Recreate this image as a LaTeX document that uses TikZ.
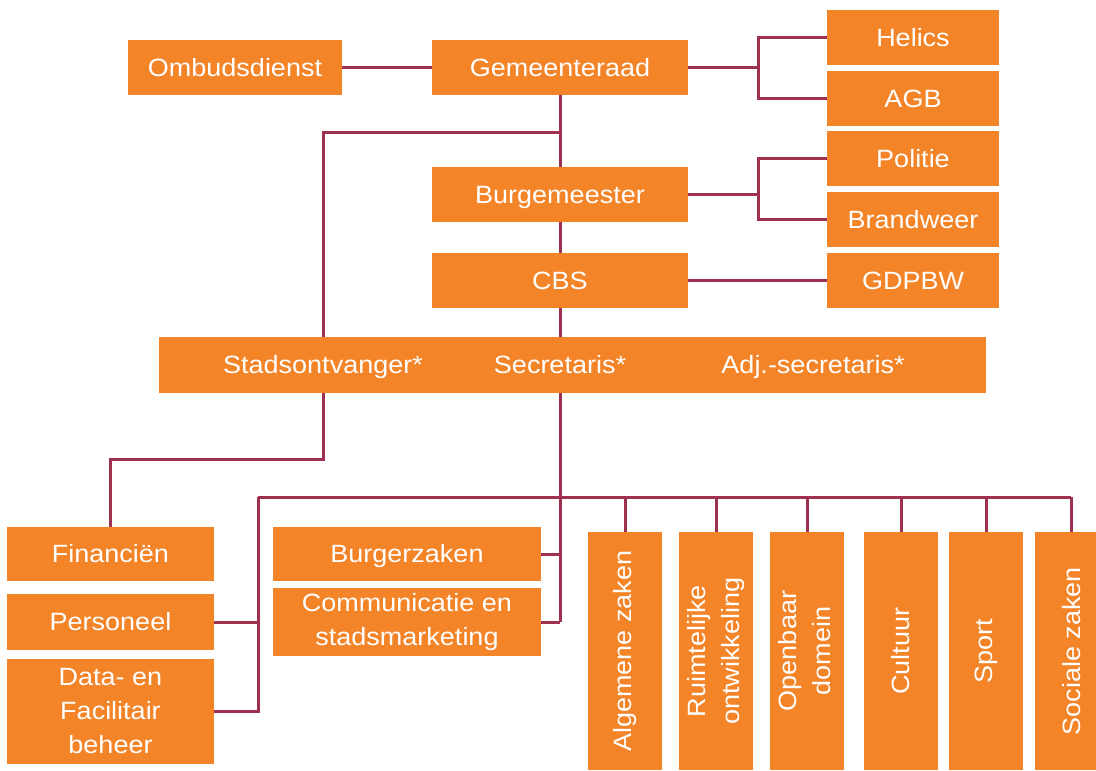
\documentclass[tikz,border=0pt]{standalone}
\usepackage{fontspec}
\setmainfont{Liberation Sans}[FakeStretch=1.08]
\definecolor{boxor}{RGB}{244,132,40}
\definecolor{linered}{RGB}{160,48,80}
\begin{document}
\begin{tikzpicture}[x=1pt,y=-1pt,
  box/.style={fill=boxor,text=white,inner sep=0pt,align=center,font=\fontsize{25}{34}\selectfont},
  one/.style={box,text height=18pt,text depth=1pt},
  lbl/.style={text=white,inner sep=0pt,font=\fontsize{25}{34}\selectfont,text height=18pt,text depth=1pt},
  vbox/.style={box,minimum width=74pt,minimum height=238pt},
  conn/.style={draw=linered,line width=3pt}]
\clip (0,0) rectangle (1096,771);
\fill[white] (0,0) rectangle (1096,771);
% top
\node[one,minimum width=214pt,minimum height=55pt] (omb) at (235,67.5) {Ombudsdienst};
\node[one,minimum width=256pt,minimum height=55pt] (gem) at (560,67.5) {Gemeenteraad};
\node[one,minimum width=172pt,minimum height=55pt] (hel) at (913,37.5) {Helics};
\node[one,minimum width=172pt,minimum height=55pt] (agb) at (913,98.5) {AGB};
\node[one,minimum width=172pt,minimum height=55pt] (pol) at (913,158.5) {Politie};
\node[one,minimum width=172pt,minimum height=55pt] (bra) at (913,219.5) {Brandweer};
\node[one,minimum width=172pt,minimum height=55pt] (gdp) at (913,280.5) {GDPBW};
\node[one,minimum width=256pt,minimum height=55pt] (bur) at (560,194.5) {Burgemeester};
\node[one,minimum width=256pt,minimum height=55pt] (cbs) at (560,280.5) {CBS};
% bar
\node[box,minimum width=827pt,minimum height=56pt] (bar) at (572.5,365) {};
\node[lbl] (stad) at (323,365) {Stadsontvanger*};
\node[lbl] (sec) at (560,365) {Secretaris*};
\node[lbl] (adj) at (813,365) {Adj.-secretaris*};
% bottom left
\node[one,minimum width=207pt,minimum height=54pt] (fin) at (110.5,554) {Financiën};
\node[one,minimum width=207pt,minimum height=56pt] (per) at (110.5,622) {Personeel};
\node[box,minimum width=207pt,minimum height=105pt] (dat) at (110.5,711.5) {Data- en\\Facilitair\\beheer};
\node[one,minimum width=268pt,minimum height=54pt] (bz) at (407,554) {Burgerzaken};
\node[box,minimum width=268pt,minimum height=68pt] (com) at (407,622) {Communicatie en\\stadsmarketing};
% vertical boxes
\node[vbox] (alg) at (625,651) {\rotatebox{90}{Algemene zaken}};
\node[vbox] (rui) at (716,651) {\rotatebox{90}{\begin{tabular}{@{}c@{}}Ruimtelijke\\ontwikkeling\end{tabular}}};
\node[vbox] (ope) at (807,651) {\rotatebox{90}{\begin{tabular}{@{}c@{}}Openbaar\\domein\end{tabular}}};
\node[vbox] (cul) at (901,651) {\rotatebox{90}{Cultuur}};
\node[vbox] (spo) at (986,651) {\rotatebox{90}{Sport}};
\node[vbox] (soc) at (1072,651) {\rotatebox{90}{Sociale zaken}};
% junction coordinates
\coordinate (j1) at (758,67.5);
\coordinate (j2) at (758,194.5);
\coordinate (j3) at (560,132);
\coordinate (s1) at (323,337);
\coordinate (s2) at (323,393);
\coordinate (m1) at (560,393);
\coordinate (m2) at (560,497);
\coordinate (lb) at (258,497);
\coordinate (rb) at (1071,497);
% connectors
\draw[conn] (omb.east) -- (gem.west);
\draw[conn] (gem.east) -- (j1);
\draw[conn] (hel.west) -| (j1) |- (agb.west);
\draw[conn] (bur.east) -- (j2);
\draw[conn] (pol.west) -| (j2) |- (bra.west);
\draw[conn] (cbs.east) -- (gdp.west);
\draw[conn] (gem.south) -- (bur.north);
\draw[conn] (bur.south) -- (cbs.north);
\draw[conn] (cbs.south) -- (cbs.south |- bar.north);
\draw[conn] (j3) -| (s1);
\draw[conn] (s2) -- ++(0,66) -| (fin.north);
\draw[conn] (m1) -- (m1 |- com.east);
\draw[conn] (bz.east) -- (bz.east -| m1);
\draw[conn] (com.east) -- (com.east -| m1);
\draw[conn] (lb) -- (rb);
\draw[conn] (lb) |- (dat.east);
\draw[conn] (per.east) -- (per.east -| lb);
\draw[conn] (alg.north |- m2) -- (alg.north);
\draw[conn] (rui.north |- m2) -- (rui.north);
\draw[conn] (ope.north |- m2) -- (ope.north);
\draw[conn] (cul.north |- m2) -- (cul.north);
\draw[conn] (spo.north |- m2) -- (spo.north);
\draw[conn] (rb) -- (rb |- soc.north);
\end{tikzpicture}
\end{document}
